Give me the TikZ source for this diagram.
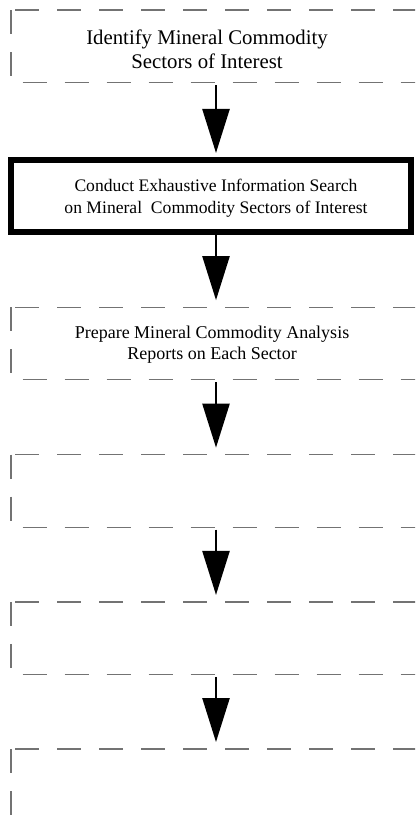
\documentclass[tikz,border=0pt]{standalone}
\usepackage{fontspec}
\setmainfont{Liberation Serif}
\usetikzlibrary{arrows.meta}

\begin{document}
\begin{tikzpicture}[x=1pt, y=-1pt, >={Triangle[length=44pt, width=27pt]},
	frame/.style={minimum width=410pt, minimum height=72.5pt, inner sep=0pt, outer sep=0pt},
	dashedge/.style={line width=1.2pt, black!55, dash pattern=on 24pt off 18pt},
	thickbox/.style={draw, line width=5.5pt, minimum width=400pt, minimum height=72pt, inner sep=0pt, outer sep=0pt},
	boxtext/.style={align=center, inner sep=0pt},
	flow/.style={->, line width=2.4pt, shorten <=2.5pt, shorten >=7pt}]
	\useasboundingbox (0,0) rectangle (415,818);
	\clip (0,0) rectangle (415,818);
	% frames
	\node[frame] (identify) at (216,46.3) {};
	\node[thickbox] (search) at (211,196) {};
	\node[frame] (prepare) at (216,343.4) {};
	\node[frame] (stepfour) at (216,490.9) {};
	\node[frame] (stepfive) at (216,638.2) {};
	\node[frame] (stepsix) at (216,785.3) {};
	\foreach \b in {identify,prepare,stepfour,stepfive,stepsix}{
		\draw[dashedge, dash phase=38pt] (\b.north west) -- (\b.north east);
		\draw[dashedge] (\b.north west) -- (\b.south west) -- (\b.south east);
	}
	% texts
	\node[boxtext, font=\fontsize{20.8}{24}\selectfont] (identifytext) at ([xshift=-9pt, yshift=-3.2pt]identify.center) {Identify Mineral Commodity\\Sectors of Interest};
	\node[boxtext, font=\fontsize{17.6}{21.7}\selectfont] (searchtext) at ([xshift=5pt, yshift=-2pt]search.center) {Conduct Exhaustive Information Search\\on Mineral~ Commodity Sectors of Interest};
	\node[boxtext, font=\fontsize{18}{21}\selectfont] (preparetext) at ([xshift=-4pt, yshift=-1.6pt]prepare.center) {Prepare Mineral Commodity Analysis\\Reports on Each Sector};
	% arrows
	\foreach \a/\b in {identify/search, search/prepare, prepare/stepfour, stepfour/stepfive, stepfive/stepsix}
		\draw[flow] (\a.south -| identify.south) -- (\b.north -| identify.south);
\end{tikzpicture}
\end{document}
